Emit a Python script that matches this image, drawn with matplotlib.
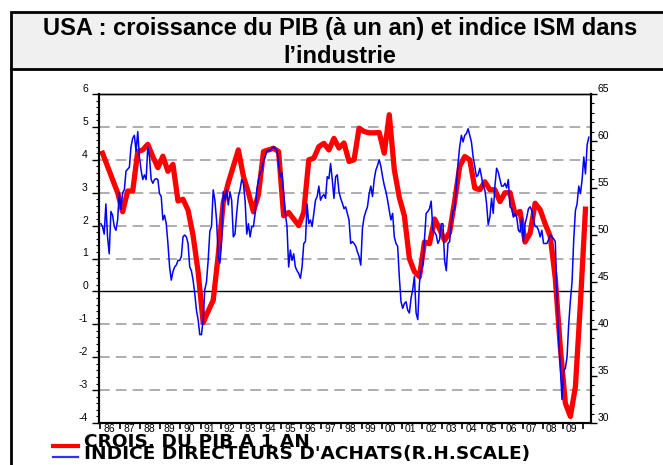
import matplotlib
matplotlib.use("Agg")
import matplotlib.pyplot as plt
import numpy as np
from matplotlib.patches import Rectangle
from matplotlib.lines import Line2D
from matplotlib.ticker import FixedLocator, FixedFormatter, NullFormatter

plt.rcParams['font.family'] = ['Liberation Sans', 'DejaVu Sans']
plt.rcParams['axes.unicode_minus'] = False

title_lines = ["USA : croissance du PIB (à un an) et indice ISM dans", "l’industrie"]
gdp_label = "CROIS. DU PIB A 1 AN"
ism_label = "INDICE DIRECTEURS D'ACHATS(R.H.SCALE)"

# quarterly GDP growth (y/y, %), 1986Q1 .. 2010Q1
gdp_yoy = [
    4.2, 3.8, 3.4, 3.0,        # 1986
    2.42, 3.05, 3.05, 4.25,    # 1987
    4.3, 4.47, 4.1, 3.76,      # 1988
    4.11, 3.65, 3.86, 2.75,    # 1989
    2.8, 2.47, 1.7, 0.6,       # 1990
    -0.95, -0.6, -0.27, 1.1,   # 1991
    2.7, 3.3, 3.8, 4.3,        # 1992
    3.5, 3.0, 2.42, 2.95,      # 1993
    4.25, 4.3, 4.35, 4.25,     # 1994
    2.3, 2.4, 2.2, 2.0,        # 1995
    2.4, 4.0, 4.05, 4.4,       # 1996
    4.5, 4.3, 4.65, 4.36,      # 1997
    4.51, 3.95, 4.0, 4.96,     # 1998
    4.86, 4.82, 4.82, 4.83,    # 1999
    4.2, 5.37, 3.7, 2.85,      # 2000
    2.3, 1.0, 0.6, 0.45,       # 2001
    1.5, 1.45, 2.2, 1.9,       # 2002
    1.55, 1.8, 2.75, 3.8,      # 2003
    4.1, 4.0, 3.14, 3.09,      # 2004
    3.33, 3.09, 3.09, 2.73,    # 2005
    3.0, 3.0, 2.35, 2.43,      # 2006
    1.5, 1.77, 2.68, 2.48,     # 2007
    2.05, 1.67, 0.4, -1.7,     # 2008
    -3.4, -3.8, -2.9, -0.35,   # 2009
    2.5,                       # 2010
]

# monthly ISM manufacturing index, Jan 1986 .. Apr 2010
ism = [
    51.2, 50.9, 50.1, 53.3, 49.8, 48.0, 52.5, 52.1, 50.9, 50.5, 51.6, 54.5,  # 1986
    52.7, 54.5, 54.8, 56.8, 57.0, 57.2, 59.4, 60.3, 60.6, 58.9, 61.0, 58.3,  # 1987
    56.9, 55.9, 56.4, 55.9, 59.4, 58.3, 55.9, 55.5, 55.9, 56.0, 55.9, 54.4,  # 1988
    54.1, 51.6, 52.1, 51.2, 49.1, 46.6, 45.2, 46.1, 46.6, 46.8, 47.3, 47.3,  # 1989
    47.7, 49.8, 50.0, 49.8, 49.1, 46.6, 46.2, 45.2, 43.8, 42.0, 41.0, 39.4,  # 1990
    39.4, 41.0, 44.2, 45.0, 47.3, 50.4, 50.9, 54.8, 53.7, 51.6, 47.7, 47.0,  # 1991
    49.3, 54.6, 53.7, 54.8, 53.2, 54.6, 53.7, 49.8, 50.1, 52.3, 54.1, 54.8,  # 1992
    55.9, 55.5, 53.7, 50.1, 51.2, 49.8, 50.9, 50.9, 52.3, 54.8, 55.9, 56.6,  # 1993
    56.9, 57.9, 58.3, 58.9, 59.0, 59.0, 59.2, 59.4, 59.2, 59.0, 57.6, 56.2,  # 1994
    56.6, 54.4, 52.3, 50.9, 46.6, 48.4, 47.3, 48.0, 46.6, 46.2, 45.9, 45.4,  # 1995
    46.6, 49.1, 49.3, 53.3, 51.2, 51.6, 50.9, 52.3, 53.7, 54.1, 55.2, 53.7,  # 1996
    54.1, 54.3, 53.9, 56.2, 56.0, 57.6, 55.9, 53.9, 56.2, 56.4, 54.6, 53.9,  # 1997
    53.4, 52.8, 53.0, 52.3, 51.6, 49.1, 49.3, 49.1, 48.8, 48.2, 47.7, 46.8,  # 1998
    50.7, 51.9, 52.5, 53.0, 54.4, 55.2, 54.1, 55.9, 56.9, 57.4, 58.0, 57.3,  # 1999
    56.2, 55.3, 54.6, 53.7, 52.6, 51.6, 52.3, 49.8, 49.1, 48.8, 45.5, 42.9,  # 2000
    42.2, 42.7, 42.9, 42.0, 41.7, 43.3, 44.2, 45.6, 41.7, 41.0, 44.9, 46.3,  # 2001
    46.8, 49.6, 52.3, 52.5, 52.8, 53.6, 50.5, 50.3, 50.0, 49.1, 49.5, 51.2,  # 2002
    51.2, 47.3, 46.2, 49.1, 49.3, 51.2, 52.6, 52.8, 55.2, 57.6, 59.4, 60.6,  # 2003
    59.9, 60.6, 60.8, 61.3, 60.6, 59.9, 58.3, 57.3, 56.2, 56.4, 57.1, 56.2,  # 2004
    55.2, 54.8, 53.4, 51.1, 51.9, 53.9, 52.3, 55.2, 57.1, 56.7, 55.9, 55.2,  # 2005
    55.2, 55.5, 55.0, 55.9, 53.0, 52.8, 51.9, 52.3, 51.9, 50.5, 50.3, 51.9,  # 2006
    49.3, 51.2, 51.9, 52.8, 53.0, 52.6, 51.6, 50.9, 50.9, 50.5, 49.8, 50.5,  # 2007
    49.1, 49.1, 49.1, 49.5, 50.0, 49.8, 49.6, 49.3, 43.5, 38.9, 36.0, 32.5,  # 2008
    35.6, 35.8, 37.0, 40.5, 43.0, 45.0, 49.5, 52.6, 53.3, 55.2, 54.4, 55.9,  # 2009
    58.3, 56.5, 59.6, 60.4,                                                  # 2010
]

years = list(range(1986, 2011))
year_labels = [f"{y % 100:02d}" for y in years[:-1]]
left_ticks = list(range(-4, 7))
right_ticks = list(range(30, 70, 5))
grid_levels = [-3, -2, -1, 1, 2, 3, 4, 5]

# observation dates (mid-period)
gdp_t = 1986 + (np.arange(len(gdp_yoy)) + 0.5) / 4
ism_t = 1986 + (np.arange(len(ism)) + 0.5) / 12

W, H = 663, 465
def fx(px):
    return px / W
def fy(py):
    return 1 - py / H

fig = plt.figure(figsize=(W / 100, H / 100), dpi=100)

# title box and frame
fig.patches.append(Rectangle((fx(11), fy(69)), fx(700 - 11), (69 - 12) / H,
                             transform=fig.transFigure, facecolor='#f0f0f0',
                             edgecolor='black', linewidth=2.0, zorder=1))
fig.lines.append(Line2D([fx(11), fx(11)], [fy(69), fy(470)], transform=fig.transFigure,
                        color='black', linewidth=2.0))
fig.text(fx(340), fy(28), title_lines[0], ha='center', va='center', fontsize=17,
         fontweight='bold', zorder=3)
fig.text(fx(340), fy(56), title_lines[1], ha='center', va='center', fontsize=17,
         fontweight='bold', zorder=3)

ax = fig.add_axes([fx(99), fy(423), (591 - 99) / W, (423 - 94) / H])
ax2 = ax.twinx()

for v in grid_levels:
    ax.axhline(v, color='#999999', linewidth=1.1, linestyle=(0, (7, 4)), zorder=1)
ax.axhline(0, color='black', linewidth=1.0, zorder=1)

ax.plot(gdp_t, gdp_yoy, color='#ff0000', linewidth=3.8, solid_joinstyle='round', zorder=2)
ax2.plot(ism_t, ism, color='#0000ff', linewidth=1.1, zorder=3)

ax.set_xlim(1985.95, 2010.4)
ax.set_ylim(-4, 6)
ax2.set_ylim(30, 65)

# x axis: ticks at year starts, labels in between
ax.xaxis.set_major_locator(FixedLocator(years))
ax.xaxis.set_major_formatter(NullFormatter())
ax.xaxis.set_minor_locator(FixedLocator([y + 0.45 for y in years[:-1]]))
ax.xaxis.set_minor_formatter(FixedFormatter(year_labels))
ax.tick_params(axis='x', which='major', direction='out', length=4, width=1.2)
ax.tick_params(axis='x', which='minor', length=0, labelsize=7.5, pad=0.5)

ax.set_yticks(left_ticks)
ax.yaxis.set_minor_locator(FixedLocator(np.arange(-4, 6.01, 0.2)))
ax.tick_params(axis='y', which='major', direction='out', length=5, width=1, labelsize=7.5, pad=3)
ax.tick_params(axis='y', which='minor', direction='out', length=2.5, width=0.8)

ax2.set_yticks(right_ticks)
ax2.yaxis.set_minor_locator(FixedLocator(range(30, 66)))
ax2.tick_params(axis='y', which='major', direction='out', length=4, width=1, labelsize=7.5, pad=1)
ax2.tick_params(axis='y', which='minor', direction='out', length=2.5, width=0.8)

# y labels sit slightly above their ticks
for tick in ax.yaxis.get_major_ticks() + ax2.yaxis.get_major_ticks():
    tick.label1.set_va('bottom')
    tick.label2.set_va('bottom')

for a in (ax, ax2):
    for side in ('left', 'bottom', 'right'):
        a.spines[side].set_linewidth(1.5)
    a.spines['top'].set_linewidth(1.0)

# legend below the plot
fig.lines.append(Line2D([fx(53), fx(78)], [fy(446), fy(446)], transform=fig.transFigure,
                        color='#ff0000', linewidth=3.0))
fig.lines.append(Line2D([fx(53), fx(78)], [fy(457), fy(457)], transform=fig.transFigure,
                        color='#3030ff', linewidth=1.6))
fig.text(fx(84), fy(446.5), gdp_label, ha='left', va='baseline', fontsize=13.3,
         fontweight='bold', family=['DejaVu Sans'])
fig.text(fx(84), fy(458.5), ism_label, ha='left', va='baseline', fontsize=13.3,
         fontweight='bold', family=['DejaVu Sans'])

fig.savefig('out.png', dpi=100)
